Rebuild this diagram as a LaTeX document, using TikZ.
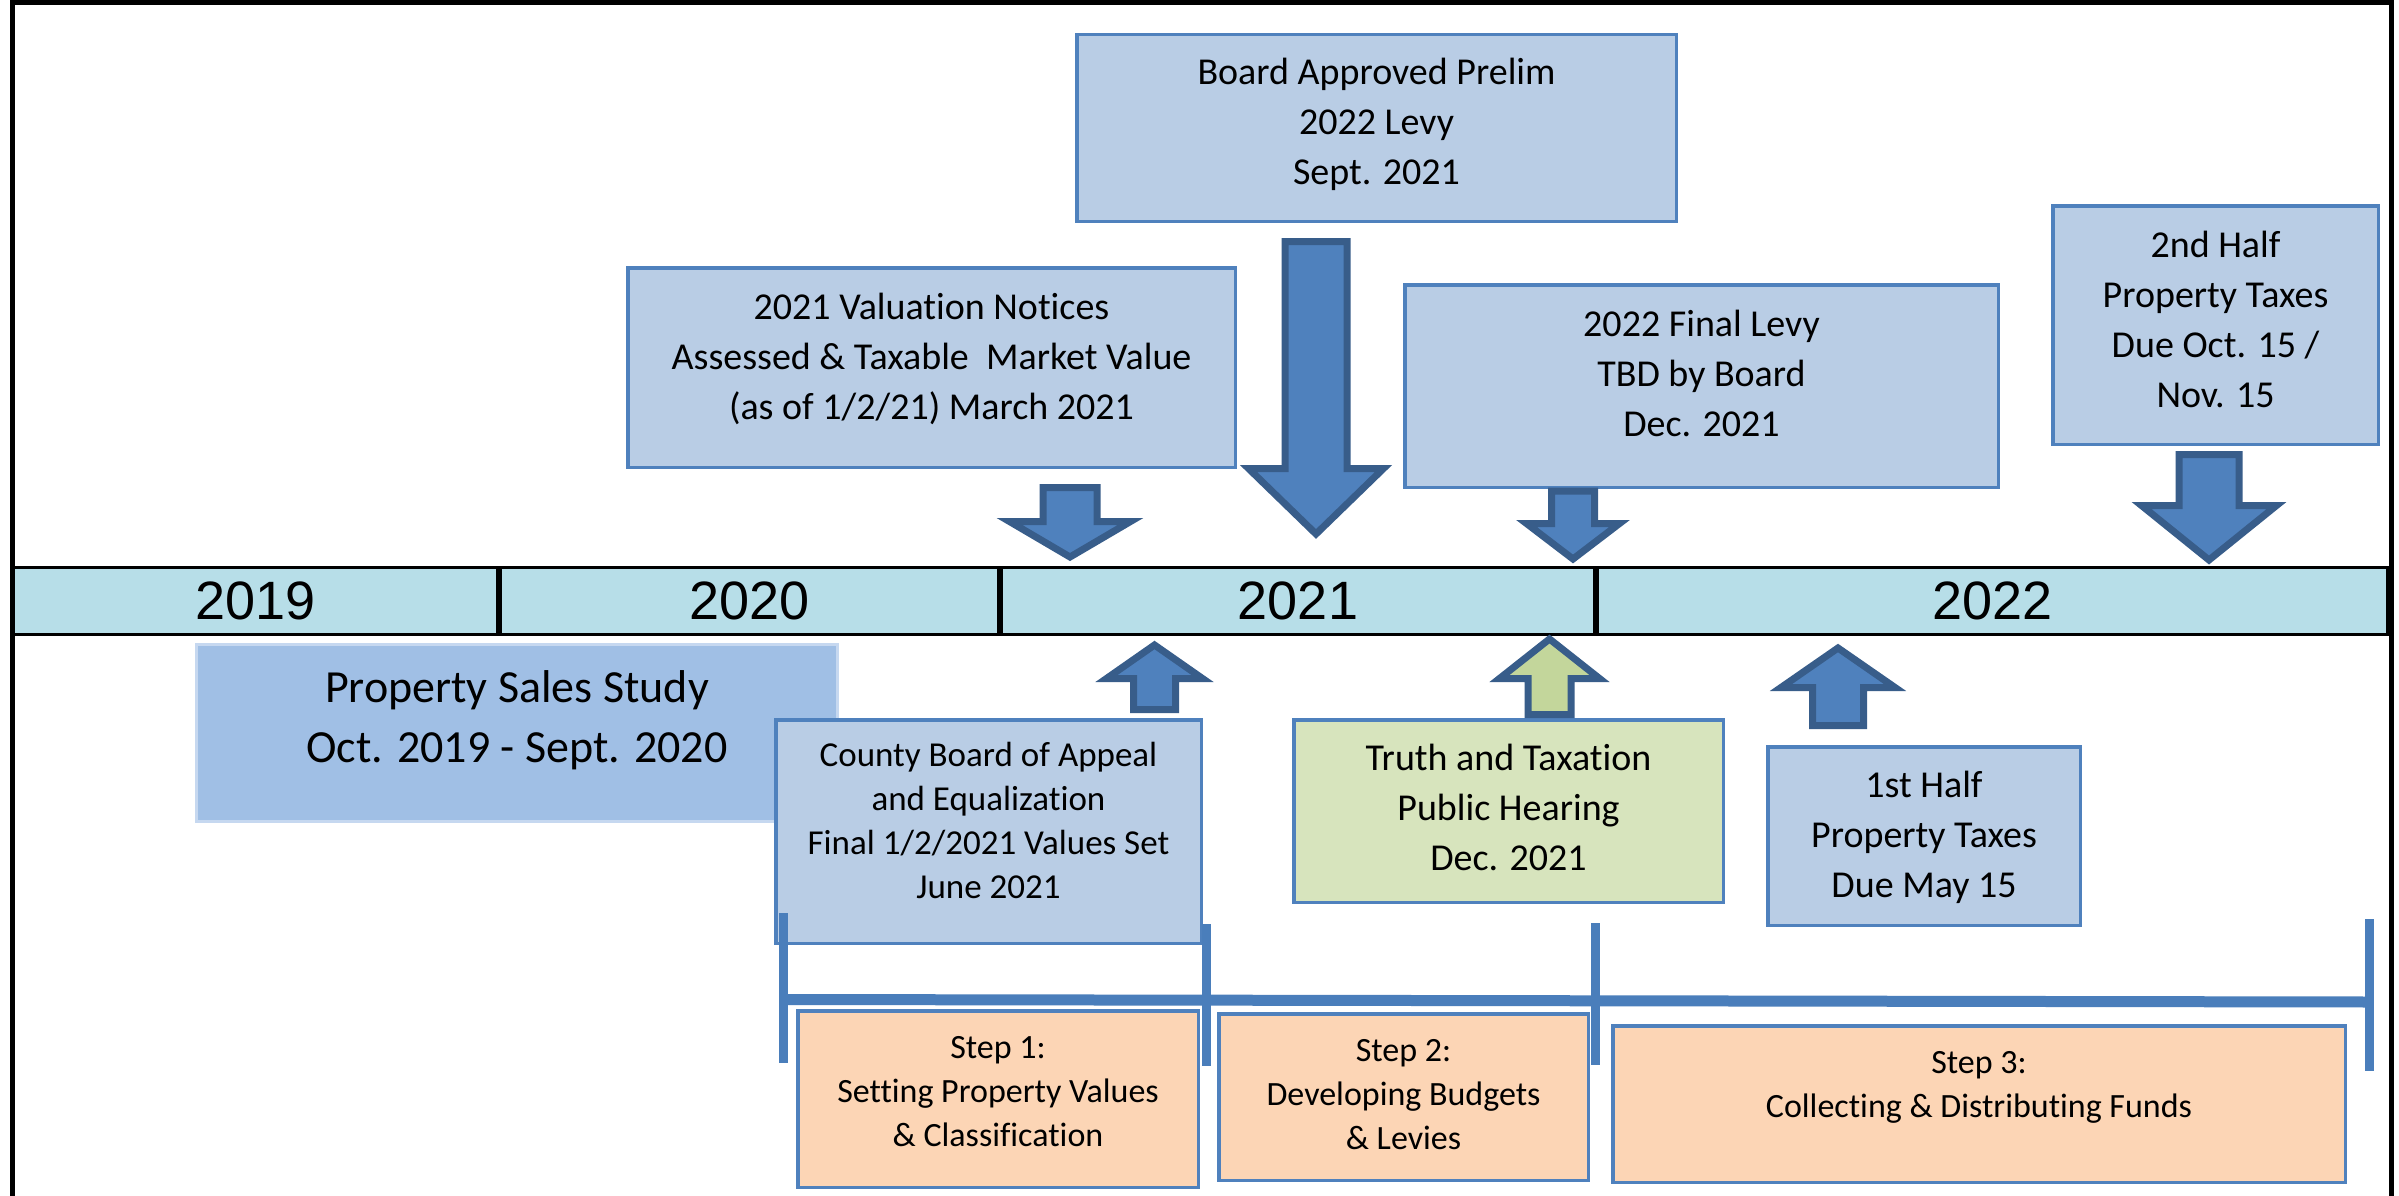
\documentclass[tikz,border=0pt]{standalone}
\usepackage{fontspec}
\newfontfamily\carl[Ligatures=NoCommon]{Carlito}
\newfontfamily\arialf{Liberation Sans}
\usetikzlibrary{calc}
\definecolor{boxblue}{HTML}{B9CDE5}
\definecolor{boxedge}{HTML}{4F81BD}
\definecolor{salesblue}{HTML}{A0BFE5}
\definecolor{salesedge}{HTML}{C6D8F0}
\definecolor{tlfill}{HTML}{B7DEE8}
\definecolor{arrfill}{HTML}{4F81BD}
\definecolor{arredge}{HTML}{385D8A}
\definecolor{greenbox}{HTML}{D7E4BD}
\definecolor{greenarr}{HTML}{C3D69B}
\definecolor{peach}{HTML}{FCD5B5}
\definecolor{bracketc}{HTML}{4A7EBB}
\newcommand\mylines[1]{\begin{tabular}[t]{@{}c@{}}#1\end{tabular}}
\tikzset{
  bluebox/.style={draw=boxedge, line width=3.5pt, fill=boxblue, inner sep=0pt},
  greenboxs/.style={bluebox, fill=greenbox},
  stepbox/.style={bluebox, fill=peach},
  salesbox/.style={draw=salesedge, line width=3pt, fill=salesblue, inner sep=0pt},
  yearcell/.style={draw=black, line width=3pt, fill=tlfill, inner sep=0pt,
    minimum height=67pt, font=\arialf\fontsize{54}{60}\selectfont},
  txtbig/.style={anchor=base, inner sep=0pt, font=\carl\fontsize{38}{50}\selectfont},
  txtmid/.style={anchor=base, inner sep=0pt, font=\carl\fontsize{35}{44}\selectfont},
  txtstep/.style={anchor=base, inner sep=0pt, font=\carl\fontsize{34}{44}\selectfont},
  txtsales/.style={anchor=base, inner sep=0pt, font=\carl\fontsize{46}{60}\selectfont},
  frameline/.style={draw=black, line width=5pt},
  bracketline/.style={draw=bracketc, line width=9pt},
  bracketbar/.style={draw=bracketc, line width=11pt},
  arrowbody/.style={fill=arrfill, draw=arredge, line width=7pt, line join=miter},
  greenarrow/.style={arrowbody, fill=greenarr},
  blk/.style n args={3}{to path={let \p1=(\tikztostart), \p2=(\tikztotarget),
      \p3=($(\tikztotarget)!#3pt!(\tikztostart)$) in
      (\x1-#1pt,\y1) -- (\x1+#1pt,\y1) -- (\x1+#1pt,\y3) -- (\x1+#2pt,\y3)
      -- (\x2,\y2) -- (\x1-#2pt,\y3) -- (\x1-#1pt,\y3) -- cycle}}
}
\begin{document}
\begin{tikzpicture}[x=1pt, y=-1pt]
\useasboundingbox (0,0) rectangle (2399,1196);
\fill[white] (0,0) rectangle (2399,1196);

% outer frame
\coordinate (fbl) at (12,1196);
\coordinate (ftl) at (12,2.5);
\coordinate (ftr) at (2391,2.5);
\coordinate (fbr) at (2391,1196);
\draw[frameline] (fbl) -- (ftl) -- (ftr) -- (fbr);

% property sales study
\node[salesbox, minimum width=641pt, minimum height=177pt] (sales) at (517,733) {};

% timeline
\node[yearcell, minimum width=484pt] (y19) at (255.5,601) {2019};
\node[yearcell, minimum width=498pt] (y20) at (749.5,601) {2020};
\node[yearcell, minimum width=593pt] (y21) at (1298,601) {2021};
\node[yearcell, minimum width=790pt] (y22) at (1992.5,601) {2022};

% boxes
\node[bluebox, minimum width=607.5pt, minimum height=199.5pt] (val) at (931.5,367.5) {};
\node[bluebox, minimum width=599.5pt, minimum height=186.5pt] (board) at (1376.5,128) {};
\node[bluebox, minimum width=593.5pt, minimum height=202.5pt] (final) at (1701.5,386) {};
\node[bluebox, minimum width=325.5pt, minimum height=238.5pt] (second) at (2215.5,325) {};
\node[bluebox, minimum width=425.5pt, minimum height=223.5pt] (county) at (988.5,831.5) {};
\node[greenboxs, minimum width=429.5pt, minimum height=182.5pt] (truth) at (1508.5,811) {};
\node[bluebox, minimum width=312.5pt, minimum height=178.5pt] (first) at (1924,836) {};
\node[stepbox, minimum width=400.5pt, minimum height=176.5pt] (step1) at (998,1099) {};
\node[stepbox, minimum width=369.5pt, minimum height=166.5pt] (step2) at (1403.5,1097) {};
\node[stepbox, minimum width=732.5pt, minimum height=156.5pt] (step3) at (1979,1104) {};

% block arrows
\coordinate (a1s) at (1070,487.5);   \coordinate (a1t) at (1070,557);
\coordinate (a2s) at (1316,241.5);   \coordinate (a2t) at (1316,534);
\coordinate (a3s) at (1573,491);     \coordinate (a3t) at (1573,559);
\coordinate (a4s) at (2209,454.5);   \coordinate (a4t) at (2209,560);
\coordinate (a5s) at (1154.5,709.5); \coordinate (a5t) at (1154.5,645);
\coordinate (a6s) at (1549.5,714.5); \coordinate (a6t) at (1549.5,639);
\coordinate (a7s) at (1838,725.5);   \coordinate (a7t) at (1838,648);
\draw[arrowbody, blk={27}{60.5}{35.5}] (a1s) to (a1t);
\draw[arrowbody, blk={31}{67.5}{65.5}] (a2s) to (a2t);
\draw[arrowbody, blk={21.5}{46.5}{35.5}] (a3s) to (a3t);
\draw[arrowbody, blk={30}{67.5}{54.5}] (a4s) to (a4t);
\draw[arrowbody, blk={21}{48}{33.5}] (a5s) to (a5t);
\draw[greenarrow, blk={21.5}{50}{39.5}] (a6s) to (a6t);
\draw[arrowbody, blk={25.5}{57}{39.5}] (a7s) to (a7t);

% step brackets
\coordinate (b1t) at (783,913);   \coordinate (b1b) at (783,1063);
\coordinate (b2t) at (1206,924);  \coordinate (b2b) at (1206,1066);
\coordinate (b3t) at (1595,923);  \coordinate (b3b) at (1595,1065);
\coordinate (b4t) at (2369,919);  \coordinate (b4b) at (2369,1071);
\coordinate (hl) at (783,999.5);  \coordinate (hr) at (2369,1002);
\draw[bracketbar] (hl) -- (hr);
\draw[bracketline] (b1t) -- (b1b);
\draw[bracketline] (b2t) -- (b2b);
\draw[bracketline] (b3t) -- (b3b);
\draw[bracketline] (b4t) -- (b4b);

% texts
\node[txtsales] (salesT) at (517,702) {\mylines{Property Sales Study\\Oct. 2019 - Sept. 2020}};
\node[txtbig] (valT) at (931.5,319) {\mylines{2021 Valuation Notices\\Assessed \& Taxable~~Market Value\\(as of 1/2/21) March 2021}};
\node[txtbig] (boardT) at (1376.5,85) {\mylines{Board Approved Prelim\\2022 Levy\\Sept. 2021}};
\node[txtbig] (finalT) at (1701.5,336) {\mylines{2022 Final Levy\\TBD by Board\\Dec. 2021}};
\node[txtbig] (secondT) at (2215.5,257) {\mylines{2nd Half\\Property Taxes\\Due Oct. 15 /\\Nov. 15}};
\node[txtmid] (countyT) at (988.5,766) {\mylines{County Board of Appeal\\and Equalization\\Final 1/2/2021 Values Set\\June 2021}};
\node[txtbig] (truthT) at (1508.5,770) {\mylines{Truth and Taxation\\Public Hearing\\Dec. 2021}};
\node[txtbig] (firstT) at (1924,797) {\mylines{1st Half\\Property Taxes\\Due May 15}};
\node[txtstep] (step1T) at (998,1058) {\mylines{Step 1:\\Setting Property Values\\\& Classification}};
\node[txtstep] (step2T) at (1403.5,1061) {\mylines{Step 2:\\Developing Budgets\\\& Levies}};
\node[txtstep] (step3T) at (1979,1073) {\mylines{Step 3:\\Collecting \& Distributing Funds}};
\end{tikzpicture}
\end{document}
